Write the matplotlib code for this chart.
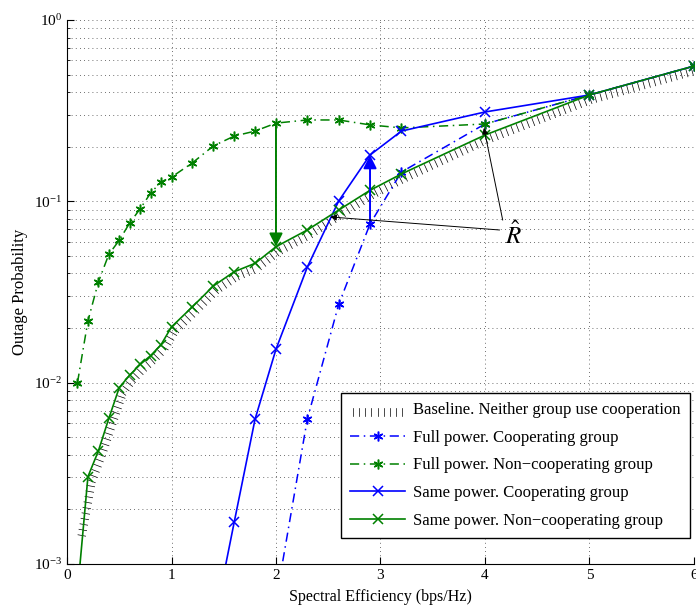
import numpy as np
import matplotlib.pyplot as plt
import matplotlib.patheffects as pe

plt.rcParams['font.family'] = ['Liberation Serif', 'DejaVu Serif']
plt.rcParams['mathtext.fontset'] = 'stix'

# Baseline. Neither group use cooperation
base_x = [0.1, 0.2, 0.3, 0.4, 0.5, 0.6, 0.7, 0.8, 0.9, 1.0, 1.2, 1.4, 1.6, 1.8, 2.0,
          2.3, 2.6, 2.9, 3.2, 4.0, 5.0, 6.0]
base_y = [1.4e-3, 2.9e-3, 4.1e-3, 6.1e-3, 9.0e-3, 0.0107, 0.0123, 0.0138, 0.0158, 0.0198,
          0.0256, 0.0334, 0.0400, 0.0447, 0.0550, 0.0680, 0.0878, 0.113, 0.139, 0.228,
          0.380, 0.550]

# Full power. Cooperating group
fpc_x = [2.0, 2.3, 2.6, 2.9, 3.2, 4.0, 5.0, 6.0]
fpc_y = [6.3e-4, 6.3e-3, 0.027, 0.075, 0.145, 0.267, 0.386, 0.557]

# Full power. Non-cooperating group
fpn_x = [0.1, 0.2, 0.3, 0.4, 0.5, 0.6, 0.7, 0.8, 0.9, 1.0, 1.2, 1.4, 1.6, 1.8, 2.0,
         2.3, 2.6, 2.9, 3.2, 4.0, 5.0, 6.0]
fpn_y = [0.0100, 0.0219, 0.0359, 0.051, 0.061, 0.076, 0.091, 0.111, 0.128, 0.136,
         0.163, 0.202, 0.229, 0.244, 0.270, 0.281, 0.281, 0.264, 0.254, 0.267, 0.386, 0.557]

# Same power. Cooperating group
spc_x = [1.4, 1.6, 1.8, 2.0, 2.3, 2.6, 2.9, 3.2, 4.0, 5.0, 6.0]
spc_y = [4.5e-4, 1.70e-3, 6.3e-3, 0.0153, 0.0434, 0.1004, 0.180, 0.244, 0.311, 0.386, 0.557]

# Same power. Non-cooperating group
spn_x = [0.1, 0.2, 0.3, 0.4, 0.5, 0.6, 0.7, 0.8, 0.9, 1.0, 1.2, 1.4, 1.6, 1.8, 2.0,
         2.3, 2.6, 2.9, 3.2, 4.0, 5.0, 6.0]
spn_y = [7.0e-4, 3.03e-3, 4.2e-3, 6.35e-3, 9.4e-3, 0.0110, 0.0126, 0.0141, 0.0162, 0.0203,
         0.0262, 0.0341, 0.0409, 0.0455, 0.0562, 0.0695, 0.0895, 0.115, 0.1415, 0.232,
         0.386, 0.557]

labels = ['Baseline. Neither group use cooperation',
          'Full power. Cooperating group',
          'Full power. Non\u2212cooperating group',
          'Same power. Cooperating group',
          'Same power. Non\u2212cooperating group']

blue = (0, 0, 1)
green = (0, 0.5, 0)
dashdot = (0, (6, 3, 1, 3))
asterisk = (6, 2, 0)

fig = plt.figure(figsize=(6.96, 6.06), dpi=100)
ax = fig.add_axes([0.0963, 0.0693, 0.9007, 0.8977])

# baseline drawn as short ticks only (like the dotted matlab export)
ticks = pe.withTickedStroke(angle=-90, spacing=4.0, length=1.4, linewidth=0.5,
                            foreground='black')
ax.plot(base_x, base_y, color='none', lw=0.8, label=labels[0], path_effects=[ticks])
ax.plot(fpc_x, fpc_y, color=blue, ls=dashdot, lw=1.1, marker=asterisk, ms=7, mew=1.1,
        label=labels[1])
ax.plot(fpn_x, fpn_y, color=green, ls=dashdot, lw=1.1, marker=asterisk, ms=7, mew=1.1,
        label=labels[2])
ax.plot(spc_x, spc_y, color=blue, ls='-', lw=1.2, marker='x', ms=7, mew=1.1, label=labels[3])
ax.plot(spn_x, spn_y, color=green, ls='-', lw=1.2, marker='x', ms=7, mew=1.1, label=labels[4])

ax.set_yscale('log')
ax.set_xlim(0, 6)
ax.set_ylim(1e-3, 1)
ax.set_xticks(range(0, 7))
ax.spines['top'].set_visible(False)
ax.spines['right'].set_visible(False)
ax.tick_params(which='both', direction='in', top=False, right=False, labelsize=11)
ax.tick_params(which='major', length=5)
ax.tick_params(which='minor', length=2.5)
ax.grid(True, which='both', ls=(0, (1, 4)), color='0.25', lw=0.6)
ax.set_xlabel('Spectral Efficiency (bps/Hz)', fontsize=11.5, labelpad=5)
ax.set_ylabel('Outage Probability', fontsize=12, labelpad=4)

# arrows between curves
i2 = fpn_x.index(2.0)
j2 = spn_x.index(2.0)
ax.annotate('', xy=(2.0, spn_y[j2]), xytext=(2.0, fpn_y[i2]),
            arrowprops=dict(arrowstyle='-|>', color=green, lw=1.4, mutation_scale=20,
                            shrinkA=0, shrinkB=0))
k = fpc_x.index(2.9)
m = spc_x.index(2.9)
ax.annotate('', xy=(2.9, spc_y[m]), xytext=(2.9, fpc_y[k]),
            arrowprops=dict(arrowstyle='-|>', color=blue, lw=1.4, mutation_scale=20,
                            shrinkA=0, shrinkB=0))

ax.text(4.27, 0.0652, r'$\hat{R}$', fontsize=18, ha='center', va='center')
ax.annotate('', xy=(2.52, 0.082), xytext=(4.14, 0.0695),
            arrowprops=dict(arrowstyle='-|>', color='black', lw=0.7, mutation_scale=9,
                            shrinkA=0, shrinkB=0))
ax.annotate('', xy=(3.99, 0.254), xytext=(4.17, 0.0788),
            arrowprops=dict(arrowstyle='-|>', color='black', lw=0.7, mutation_scale=9,
                            shrinkA=0, shrinkB=0))

leg = ax.legend(loc='lower right', bbox_to_anchor=(0.994, 0.048), fontsize=12,
                fancybox=False, framealpha=1, edgecolor='black', numpoints=1,
                handlelength=3.3, handletextpad=0.5, labelspacing=0.7, borderpad=0.55,
                borderaxespad=0)
leg.get_frame().set_linewidth(1.0)

fig.savefig('out.png', dpi=100)
